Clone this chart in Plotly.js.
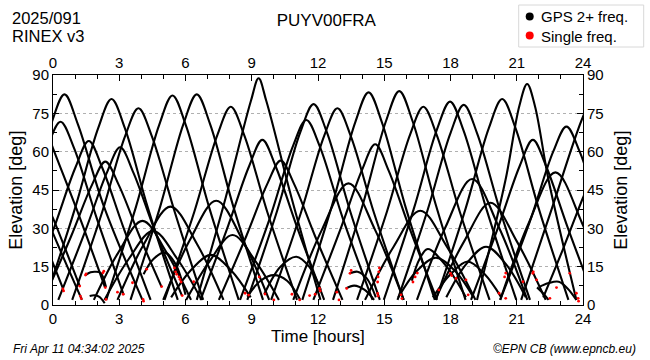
<!DOCTYPE html>
<html>
<head>
<meta charset="utf-8">
<script src="https://cdn.plot.ly/plotly-3.0.1.min.js"></script>
<style>
html,body{margin:0;padding:0;background:#fff;}
#chart{width:650px;height:360px;}
</style>
</head>
<body>
<div id="chart"></div>
<script>
// Satellite passes: time [hours] and elevation [deg]
const passTimes = [
  [-2.48,-1.13,-0.08,0.52,1.12,2.3,4.05],
  [-2.66,-1.31,-0.26,0.34,0.94,1.99,3.2],
  [-1.18,0.07,1.02,1.62,2.22,3.17,4.42],
  [-0.35,1.0,2.05,2.65,3.25,4.3,5.65],
  [-0.43,0.82,1.77,2.37,2.97,3.92,4.92],
  [0.24,1.49,2.44,3.04,3.64,4.59,5.84],
  [0.87,2.22,3.27,3.87,4.47,5.52,6.8],
  [2.41,3.76,4.81,5.41,6.01,7.06,8.41],
  [3.51,4.86,5.91,6.51,7.11,8.16,9.51],
  [5.05,6.4,7.45,8.05,8.65,9.7,11.05],
  [6.51,7.81,8.96,9.31,9.66,10.81,12.11],
  [6.68,7.93,8.88,9.48,10.08,11.03,12.28],
  [7.51,8.76,9.71,10.31,10.91,11.86,13.11],
  [8.8,10.15,11.2,11.8,12.4,13.45,14.8],
  [8.47,9.82,10.87,11.47,12.07,13.12,14.47],
  [1.85,2.95,4.05,5.15,6.25],
  [2.33,3.43,4.53,5.63,6.73],
  [2.92,4.12,5.32,6.52,7.72],
  [4.1,4.55,5.07,5.55,6.0],
  [4.99,6.19,7.39,8.59,9.79],
  [6.03,7.08,8.13,9.18,10.23],
  [5.35,6.25,7.15,8.05,8.95],
  [9.57,10.3,11.02,11.6,12.13],
  [8.8,9.4,10.0,10.6,11.2],
  [1.47,1.7,1.9,2.15,2.4],
  [1.66,1.88,2.1,2.34],
  [-0.6,0,1.2,2.35],
  [-0.3,0,0.6,1.21],
  [-0.3,0,0.65,1.31],
  [-0.3,0,0.45],
  [9.88,11.23,12.28,12.88,13.48,14.53,15.88],
  [11.29,12.64,13.69,14.29,14.89,15.94,17.29],
  [12.68,14.03,15.08,15.68,16.28,17.33,18.68],
  [13.77,15.12,16.17,16.77,17.37,18.42,19.77],
  [14.98,16.33,17.38,17.98,18.58,19.63,20.98],
  [15.6,16.95,18.0,18.6,19.2,20.25,21.6],
  [17.34,18.69,19.74,20.34,20.94,21.99,23.34],
  [19.2,20.49,21.12,21.47,21.82,22.44,23.7],
  [20.25,21.6,22.65,23.25,23.85,24.9,26.25],
  [11.79,13.04,13.99,14.59,15.19,16.14,17.39],
  [18.93,20.18,21.13,21.73,22.33,23.28,24.53],
  [10.88,12.18,13.38,14.58,15.88],
  [16.48,17.78,18.98,20.18,21.48],
  [20.25,21.55,22.75,23.95,25.25],
  [17.31,18.61,19.81,21.01,22.31],
  [14.13,15.43,16.63,17.83,19.13],
  [16.25,16.6,16.97,17.8,18.7],
  [15.64,16.44,17.34,18.24,19.04],
  [17.81,18.71,19.61,20.51,21.41],
  [17.2,18.0,18.78,19.55,20.3],
  [22.0,22.45,22.9,23.3,23.7],
  [13.45,13.79,14.2,14.62],
  [13.26,13.64,14.1,14.54],
  [21.92,22.2,22.44],
  [21.2,22.6,24,24.5],
  [22.2,23.1,24,24.4]
];
const passElev = [
  [2,38.7,70.9,82.4,70.9,38.7,2],
  [2,33.7,61.7,71.7,61.7,33.7,4],
  [2,30.8,53.9,64.2,53.9,30.8,2],
  [2,37.9,69.3,80.6,69.3,37.9,2],
  [2,26.9,47.1,56.1,47.1,26.9,7],
  [2,29.6,51.8,61.7,51.8,29.6,3.7],
  [2,36.2,66.2,77,66.2,36.2,2],
  [2,38.5,70.5,82,70.5,38.5,2],
  [2,38.7,70.9,82.4,70.9,38.7,2],
  [2,36.5,66.7,77.6,66.7,36.5,2],
  [2,41.7,79.8,88.7,79.8,41.7,2],
  [2,31,54.3,64.6,54.3,31,2],
  [2,27.1,47.5,56.5,47.5,27.1,2],
  [2,36.9,67.6,78.6,67.6,36.9,2],
  [2,34,62.3,72.4,62.3,34,2],
  [2,20.4,32.9,20.4,2],
  [2,18,29,18,2],
  [2,23.9,38.5,23.9,2],
  [12,18,20.5,16,4],
  [2,25.3,40.8,25.3,2],
  [2,17,27.4,17,2],
  [3,13.7,19.6,13.7,3],
  [4.3,15,18.9,15,5.9],
  [3.3,9.5,11.7,9.5,2],
  [11.7,12.8,13,12.6,7],
  [3.5,3.8,3.2,0.7],
  [75,61.3,34.5,7],
  [40,34,21,7.4],
  [34,28,15,2],
  [23,16.3,6.5],
  [2,36.2,66.2,77,66.2,36.2,2],
  [2,39.1,71.6,83.2,71.6,39.1,2],
  [2,39.3,72,83.7,72,39.3,2],
  [2,36.5,66.7,77.6,66.7,36.5,2],
  [2,37.4,68.5,79.6,68.5,37.4,2],
  [2,36.8,67.3,78.3,67.3,36.8,2],
  [2,37.9,69.3,80.6,69.3,37.9,2],
  [2,48.9,78,86.5,78,48.9,2],
  [2,32.8,60,69.8,60,32.8,2],
  [2,30.2,52.8,62.9,52.8,30.2,2],
  [2,31,54.3,64.6,54.3,31,2],
  [2,29.5,47.6,29.5,2],
  [2,30.6,49.3,30.6,2],
  [2,32.2,51.9,32.2,2],
  [2,24.8,40,24.8,2],
  [2,22.9,36.9,22.9,2],
  [9.5,18,21.9,15.3,3],
  [3,13,18.5,13,3],
  [3,16,22.8,16,3],
  [3,12,17,12,3],
  [7,8.6,9.1,6.5,2],
  [12.4,13,10.5,3],
  [6.5,7.6,6,2],
  [6.9,4.5,2],
  [2,38,73.7,82],
  [3,22,42,50]
];
// Single-frequency observations (red)
const singleT = [0.45,0.48,1.21,1.24,1.28,1.47,1.5,2.26,2.3,2.37,2.4,2.92,3.18,3.6,4.08,4.1,4.24,4.92,5.5,5.55,5.6,5.7,5.75,5.8,5.85,6.37,8.7,8.86,9.34,9.6,10.0,10.82,11.17,11.62,11.87,12.07,12.1,
  12.85,12.95,13.3,13.45,13.5,14.7,14.72,14.75,14.78,14.7,14.72,15.76,15.8,16.3,16.4,16.5,17.47,18.0,18.05,18.25,18.7,18.8,20.2,20.45,20.5,20.5,21.28,21.73,21.75,21.9,22.5,22.8,23.4,23.7,23.78,23.8];
const singleE = [6.3,5.5,7.4,3.5,2.5,11.7,12.2,12.6,13.2,6.8,2.2,5,4.2,8.7,2.2,1.5,14,7.2,14.5,13,12,11,10,9,3.7,9.1,4.6,3.9,11,4.3,2,4.2,2,3.7,4.2,6.5,5.5,
  5,2,6.5,12.4,13.5,9,11,13,14.5,4.5,3.5,4,2.5,9,11,12.5,5.9,12.4,11.5,10.4,9.8,4,4.6,11,12.5,2.6,9.1,12.4,13,9.8,2.6,6.8,12.4,4.6,2.6,1.5];
const hourTicks = [0,3,6,9,12,15,18,21,24];
const elevTicks = [0,15,30,45,60,75,90];

const traces = [];
for (let i = 0; i < passTimes.length; i++) {
  traces.push({
    x: passTimes[i], y: passElev[i], type: 'scatter', mode: 'lines',
    line: {color: '#000', width: 2.1, shape: 'spline', smoothing: 1},
    showlegend: false, hoverinfo: 'skip'
  });
}
traces.push({
  x: singleT, y: singleE, type: 'scatter', mode: 'markers',
  marker: {color: '#ff0000', size: 2.8}, showlegend: false, hoverinfo: 'skip'
});
// invisible trace to anchor top / right axes
traces.push({x: [0], y: [0], xaxis: 'x2', yaxis: 'y2', mode: 'markers',
  marker: {opacity: 0}, showlegend: false, hoverinfo: 'skip'});

const fontFam = 'Liberation Sans, Arial, sans-serif';
const tickFont = {family: fontFam, size: 15, color: '#000'};

function px2x(p) { return (p - 53.3) / 530; }
function px2y(p) { return (305 - p) / 230; }

const axisCommon = {
  ticks: 'inside', ticklen: 6, tickcolor: '#000', tickwidth: 1,
  showline: true, linecolor: '#000', linewidth: 1, zeroline: false,
  tickfont: tickFont, fixedrange: true
};

const layout = {
  width: 650, height: 360,
  margin: {l: 53.3, r: 66.7, t: 75, b: 55, pad: 0},
  paper_bgcolor: '#fff', plot_bgcolor: '#fff',
  showlegend: false,
  title: {text: 'PUYV00FRA', x: 0.502, xanchor: 'center', y: 1 - 20/360, yanchor: 'middle',
    xref: 'container', yref: 'container', font: {family: fontFam, size: 17, color: '#000'}},
  xaxis: Object.assign({range: [0, 24], tickvals: hourTicks, ticktext: hourTicks.map(String), showgrid: false,
    minor: {dtick: 1, tick0: 0, ticks: 'inside', ticklen: 4, tickcolor: '#000', showgrid: false}}, axisCommon),
  xaxis2: Object.assign({range: [0, 24], overlaying: 'x', side: 'top', anchor: 'y', tickvals: hourTicks,
    ticktext: hourTicks.map(String), showgrid: false,
    minor: {dtick: 1, tick0: 0, ticks: 'inside', ticklen: 4, tickcolor: '#000', showgrid: false}}, axisCommon),
  yaxis: Object.assign({range: [0, 90], tickvals: elevTicks, ticktext: elevTicks.map(String),
    showgrid: true, gridcolor: '#b0b0b0', griddash: 'dot', gridwidth: 1,
    minor: {dtick: 7.5, tick0: 0, ticks: 'inside', ticklen: 4, tickcolor: '#000', showgrid: false}}, axisCommon),
  yaxis2: Object.assign({range: [0, 90], overlaying: 'y', side: 'right', anchor: 'x', tickvals: elevTicks,
    ticktext: elevTicks.map(String), showgrid: false,
    minor: {dtick: 7.5, tick0: 0, ticks: 'inside', ticklen: 4, tickcolor: '#000', showgrid: false}}, axisCommon),
  shapes: [
    {type: 'rect', xref: 'paper', yref: 'paper', x0: px2x(519), x1: px2x(644), y0: px2y(47), y1: px2y(5),
      line: {color: '#d8d8d8', width: 1}, fillcolor: '#fff'},
    {type: 'circle', xref: 'paper', yref: 'paper', x0: px2x(526), x1: px2x(534), y0: px2y(20.5), y1: px2y(12.5),
      line: {width: 0}, fillcolor: '#000'},
    {type: 'circle', xref: 'paper', yref: 'paper', x0: px2x(526), x1: px2x(534), y0: px2y(39.5), y1: px2y(31.5),
      line: {width: 0}, fillcolor: '#ff0000'}
  ],
  annotations: [
    {text: '2025/091', xref: 'paper', yref: 'paper', x: px2x(10), y: px2y(18), xanchor: 'left', yanchor: 'middle',
      showarrow: false, font: {family: fontFam, size: 16.5, color: '#000'}},
    {text: 'RINEX v3', xref: 'paper', yref: 'paper', x: px2x(10), y: px2y(36), xanchor: 'left', yanchor: 'middle',
      showarrow: false, font: {family: fontFam, size: 16.5, color: '#000'}},
    {text: 'GPS 2+ freq.', xref: 'paper', yref: 'paper', x: px2x(539), y: px2y(17), xanchor: 'left', yanchor: 'middle',
      showarrow: false, font: {family: fontFam, size: 15, color: '#000'}},
    {text: 'Single freq.', xref: 'paper', yref: 'paper', x: px2x(539), y: px2y(36), xanchor: 'left', yanchor: 'middle',
      showarrow: false, font: {family: fontFam, size: 15, color: '#000'}},
    {text: 'Time [hours]', xref: 'paper', yref: 'paper', x: 0.5, y: px2y(336), xanchor: 'center', yanchor: 'middle',
      showarrow: false, font: {family: fontFam, size: 17, color: '#000'}},
    {text: 'Elevation [deg]', xref: 'paper', yref: 'paper', x: px2x(16), y: 0.5, xanchor: 'center', yanchor: 'middle',
      textangle: -90, showarrow: false, font: {family: fontFam, size: 18, color: '#000'}},
    {text: 'Elevation [deg]', xref: 'paper', yref: 'paper', x: px2x(621), y: 0.5, xanchor: 'center', yanchor: 'middle',
      textangle: -90, showarrow: false, font: {family: fontFam, size: 18, color: '#000'}},
    {text: 'Fri Apr 11 04:34:02 2025', xref: 'paper', yref: 'paper', x: px2x(11), y: px2y(349), xanchor: 'left', yanchor: 'middle',
      showarrow: false, font: {family: fontFam, size: 12, color: '#000', style: 'italic'}},
    {text: '©EPN CB (www.epncb.eu)', xref: 'paper', yref: 'paper', x: px2x(638), y: px2y(349), xanchor: 'right', yanchor: 'middle',
      showarrow: false, font: {family: fontFam, size: 12, color: '#000', style: 'italic'}}
  ]
};

Plotly.newPlot('chart', traces, layout, {displayModeBar: false, staticPlot: true});
</script>
</body>
</html>
